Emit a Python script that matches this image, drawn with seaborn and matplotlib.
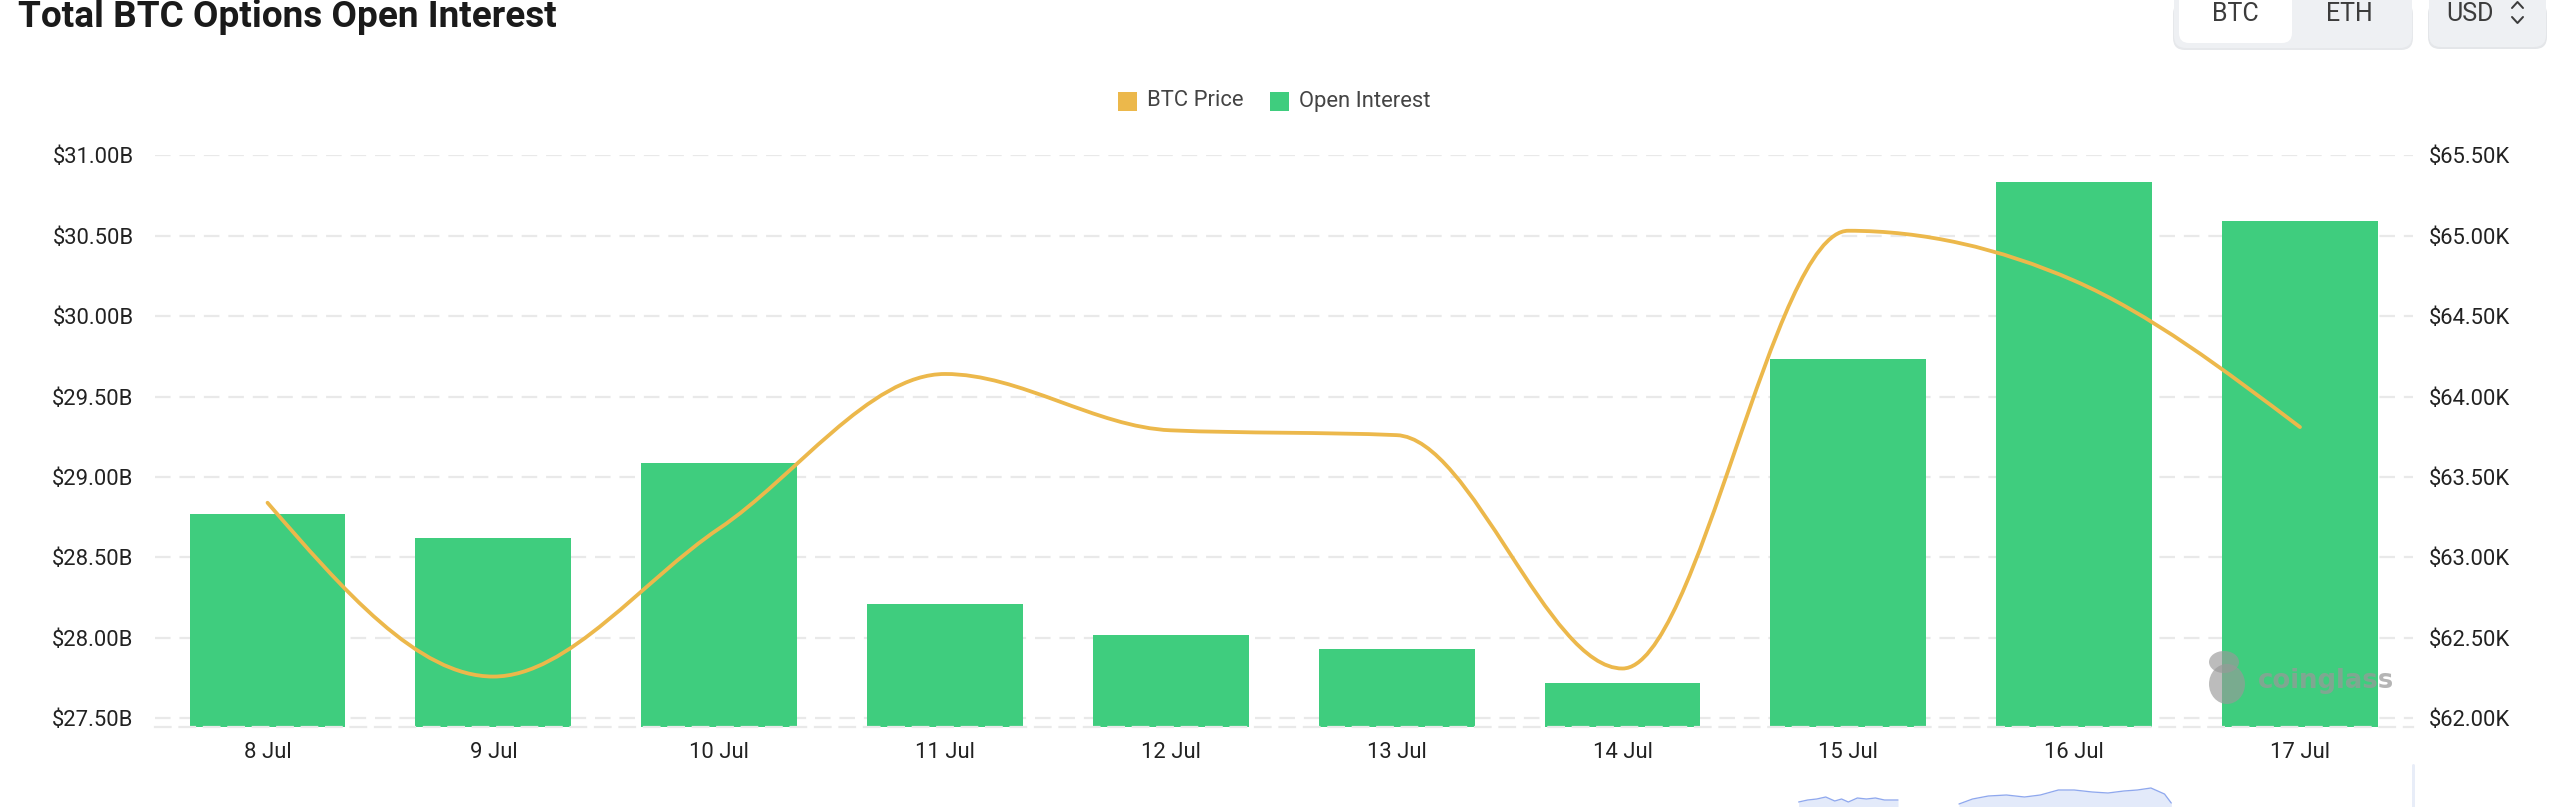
import numpy as np
import pandas as pd
import seaborn as sns
import matplotlib
matplotlib.use("Agg")
import matplotlib.pyplot as plt
from matplotlib.path import Path
from matplotlib.patches import PathPatch, Rectangle, FancyBboxPatch, Ellipse
from matplotlib.lines import Line2D
from matplotlib.ticker import FixedLocator, FuncFormatter

# ---------------- data ----------------
dates = ["8 Jul", "9 Jul", "10 Jul", "11 Jul", "12 Jul", "13 Jul", "14 Jul", "15 Jul", "16 Jul", "17 Jul"]
open_interest_b = [28.77, 28.62, 29.09, 28.21, 28.02, 27.93, 27.72, 29.73, 30.83, 30.59]   # $B
btc_price_k = [63.34, 62.26, 63.18, 64.14, 63.79, 63.76, 62.31, 65.03, 64.72, 63.81]      # $K
left_ticks = [27.5, 28.0, 28.5, 29.0, 29.5, 30.0, 30.5, 31.0]
right_ticks = [62.0, 62.5, 63.0, 63.5, 64.0, 64.5, 65.0, 65.5]
legend_labels = ["BTC Price", "Open Interest"]
title_text = "Total BTC Options Open Interest"
buttons = ["BTC", "ETH", "USD"]
watermark = "coinglass"
# faint overview (dataZoom) strip at the bottom, values in px-height units
slider1_x = [6.78, 6.82, 6.86, 6.90, 6.94, 6.97, 7.00, 7.04, 7.08, 7.12, 7.16, 7.22]
slider1_v = [5, 7, 8, 10, 6, 8, 5, 9, 8, 9, 7, 7]
slider2_x = [7.49, 7.55, 7.62, 7.70, 7.78, 7.85, 7.93, 8.00, 8.08, 8.15, 8.22, 8.28, 8.34, 8.40, 8.43]
slider2_v = [3, 8, 11, 12, 10, 12, 17, 17, 15, 14, 16, 17, 19, 13, 4]

GREEN = "#3fcd7e"
ORANGE = "#ecb84b"
GRID = "#e9e9e9"
TXT = "#222222"

W, H = 2560, 807
sns.set_theme(style="white")
plt.rcParams["font.family"] = ["Roboto", "DejaVu Sans"]

fig = plt.figure(figsize=(W / 100, H / 100), dpi=100)
fig.patch.set_facecolor("white")

def fx(x):
    return x / W

def fy(y):
    return 1 - y / H

PX = 0.72  # pt per px at dpi 100

# ---------------- main axes ----------------
ax_left, ax_right, ax_top, ax_bot = 154.6, 2412.9, 155.1, 727.0
ax = fig.add_axes([fx(ax_left), fy(ax_bot), (ax_right - ax_left) / W, (ax_bot - ax_top) / H])
df = pd.DataFrame({"date": dates, "oi": open_interest_b})
sns.barplot(data=df, x="date", y="oi", color=GREEN, saturation=1, width=0.69,
            linewidth=0, ax=ax, zorder=2)
ax.set_ylim(27.5 - (ax_bot - 718.4) / 161.0, 31.0)
ax.set_xlim(-0.5, len(dates) - 0.5)
ax.set_xlabel("")
ax.set_ylabel("")
ax.yaxis.set_major_locator(FixedLocator(left_ticks))
ax.yaxis.set_major_formatter(FuncFormatter(lambda v, p: f"${v:.2f}B"))
ax.grid(axis="y", color=GRID, linestyle=(0, (7, 4)), linewidth=1.6)
ax.grid(axis="x", visible=False)
ax.set_axisbelow(True)
for s in ["left", "right", "top"]:
    ax.spines[s].set_visible(False)
ax.spines["bottom"].set_color(GRID)
ax.spines["bottom"].set_linestyle((0, (7, 4)))
ax.spines["bottom"].set_linewidth(1.6)
ax.tick_params(axis="y", length=0, pad=21 * PX, labelsize=22 * PX, labelcolor=TXT)
ax.tick_params(axis="x", length=0, pad=15 * PX, labelsize=22 * PX, labelcolor=TXT)

ax2 = ax.twinx()
ax2.set_ylim(62.0 - (ax_bot - 718.4) / 161.0, 65.5)
ax2.yaxis.set_major_locator(FixedLocator(right_ticks))
ax2.yaxis.set_major_formatter(FuncFormatter(lambda v, p: f"${v:.2f}K"))
ax2.tick_params(axis="y", length=0, pad=16 * PX, labelsize=22 * PX, labelcolor=TXT)
ax2.grid(False)
for s in ["left", "right", "top", "bottom"]:
    ax2.spines[s].set_visible(False)
ax2.patch.set_visible(False)

# smooth line: monotone-x cubic bezier through the data points (d3 curveMonotoneX style)
xs = np.arange(len(btc_price_k), dtype=float)
ys = np.asarray(btc_price_k, dtype=float)
n = len(xs)
sec = np.diff(ys) / np.diff(xs)
tan = np.zeros(n)
for i in range(1, n - 1):
    h0, h1 = xs[i] - xs[i - 1], xs[i + 1] - xs[i]
    s0, s1 = sec[i - 1], sec[i]
    p = (s0 * h1 + s1 * h0) / (h0 + h1)
    tan[i] = (np.sign(s0) + np.sign(s1)) * min(abs(s0), abs(s1), 0.5 * abs(p))
tan[0] = (3 * sec[0] - tan[1]) / 2
tan[-1] = (3 * sec[-1] - tan[-2]) / 2
verts = [(xs[0], ys[0])]
codes = [Path.MOVETO]
for i in range(n - 1):
    dx = (xs[i + 1] - xs[i]) / 3
    verts += [(xs[i] + dx, ys[i] + dx * tan[i]),
              (xs[i + 1] - dx, ys[i + 1] - dx * tan[i + 1]),
              (xs[i + 1], ys[i + 1])]
    codes += [Path.CURVE4] * 3
ax2.add_patch(PathPatch(Path(verts, codes), fill=False, edgecolor=ORANGE, lw=3.8 * PX,
                        capstyle="round", joinstyle="round", zorder=5))

# watermark
fig.text(fx(2258), fy(681), watermark, fontsize=26 * PX, fontweight="bold", color="#999999",
         alpha=0.72, ha="left", va="center", family=["DejaVu Sans"])
fig.patches.append(Ellipse((fx(2227), fy(684)), 36 / W, 40 / H, transform=fig.transFigure,
                           facecolor="#999999", alpha=0.65, edgecolor="none"))
fig.patches.append(Ellipse((fx(2224), fy(662)), 30 / W, 22 / H, transform=fig.transFigure,
                           facecolor="#999999", alpha=0.65, edgecolor="none"))

# ---------------- title ----------------
t = fig.text(fx(18), fy(27), title_text, fontsize=32 * PX, fontweight="bold", color="#1a1a1a",
             ha="left", va="baseline")
fig.canvas.draw()
bb = t.get_window_extent()
t.set_fontsize(32 * PX * 540 / bb.width)

# ---------------- legend ----------------
fig.patches.append(Rectangle((fx(1118), fy(111)), 19 / W, 19 / H, transform=fig.transFigure,
                             facecolor=ORANGE, edgecolor="none"))
fig.text(fx(1147), fy(101), legend_labels[0], fontsize=22 * PX, color="#444444", ha="left", va="center")
fig.patches.append(Rectangle((fx(1270), fy(111)), 19 / W, 19 / H, transform=fig.transFigure,
                             facecolor=GREEN, edgecolor="none"))
fig.text(fx(1299), fy(101), legend_labels[1], fontsize=22 * PX, color="#444444", ha="left", va="center")

# ---------------- top-right buttons ----------------
def rbox(x0, y0, x1, y1, fc, ec="none", r=10, z=1):
    b = FancyBboxPatch((fx(x0), fy(y1)), (x1 - x0) / W, (y1 - y0) / H,
                       boxstyle=f"round,pad=0,rounding_size={r / W}", transform=fig.transFigure,
                       facecolor=fc, edgecolor=ec, linewidth=1, zorder=z, mutation_aspect=W / H)
    fig.patches.append(b)

rbox(2173, 2, 2413, 50, "#e6e8eb", r=12)
rbox(2174, -20, 2412, 48, "#eef0f3", r=12)
rbox(2179, -20, 2292, 43, "#ffffff", r=10)
rbox(2428, 2, 2547, 49, "#e4e6e9", r=12)
rbox(2429, -20, 2546, 47, "#eef0f3", r=12)
fig.text(fx(2235), fy(14), buttons[0], fontsize=25 * PX, color="#3c3c3c", ha="center", va="center")
fig.text(fx(2349), fy(14), buttons[1], fontsize=25 * PX, color="#3c3c3c", ha="center", va="center")
fig.text(fx(2446), fy(14), buttons[2], fontsize=25 * PX, color="#3c3c3c", ha="left", va="center")
fig.lines.append(Line2D([fx(2512), fx(2517.5), fx(2523)], [fy(8), fy(2), fy(8)],
                        transform=fig.transFigure, color="#3c3c3c", lw=2 * PX))
fig.lines.append(Line2D([fx(2512), fx(2517.5), fx(2523)], [fy(17), fy(23), fy(17)],
                        transform=fig.transFigure, color="#3c3c3c", lw=2 * PX))

# ---------------- bottom overview strip ----------------
axs = fig.add_axes([fx(ax_left), fy(837), (ax_right - ax_left) / W, 60 / H])
axs.set_xlim(-0.5, len(dates) - 0.5)
axs.set_ylim(-30, 30)
axs.fill_between(slider1_x, slider1_v, -30, color="#e3eafa", lw=0)
axs.plot(slider1_x, slider1_v, color="#8fa8ee", lw=1.3 * PX)
axs.fill_between(slider2_x, slider2_v, -30, color="#e3eafa", lw=0)
axs.plot(slider2_x, slider2_v, color="#8fa8ee", lw=1.3 * PX)
axs.axis("off")
fig.lines.append(Line2D([fx(2413), fx(2413)], [fy(765), fy(807)], transform=fig.transFigure,
                        color="#e8edf8", lw=3 * PX))

fig.savefig("out.png", dpi=100, facecolor="white")
